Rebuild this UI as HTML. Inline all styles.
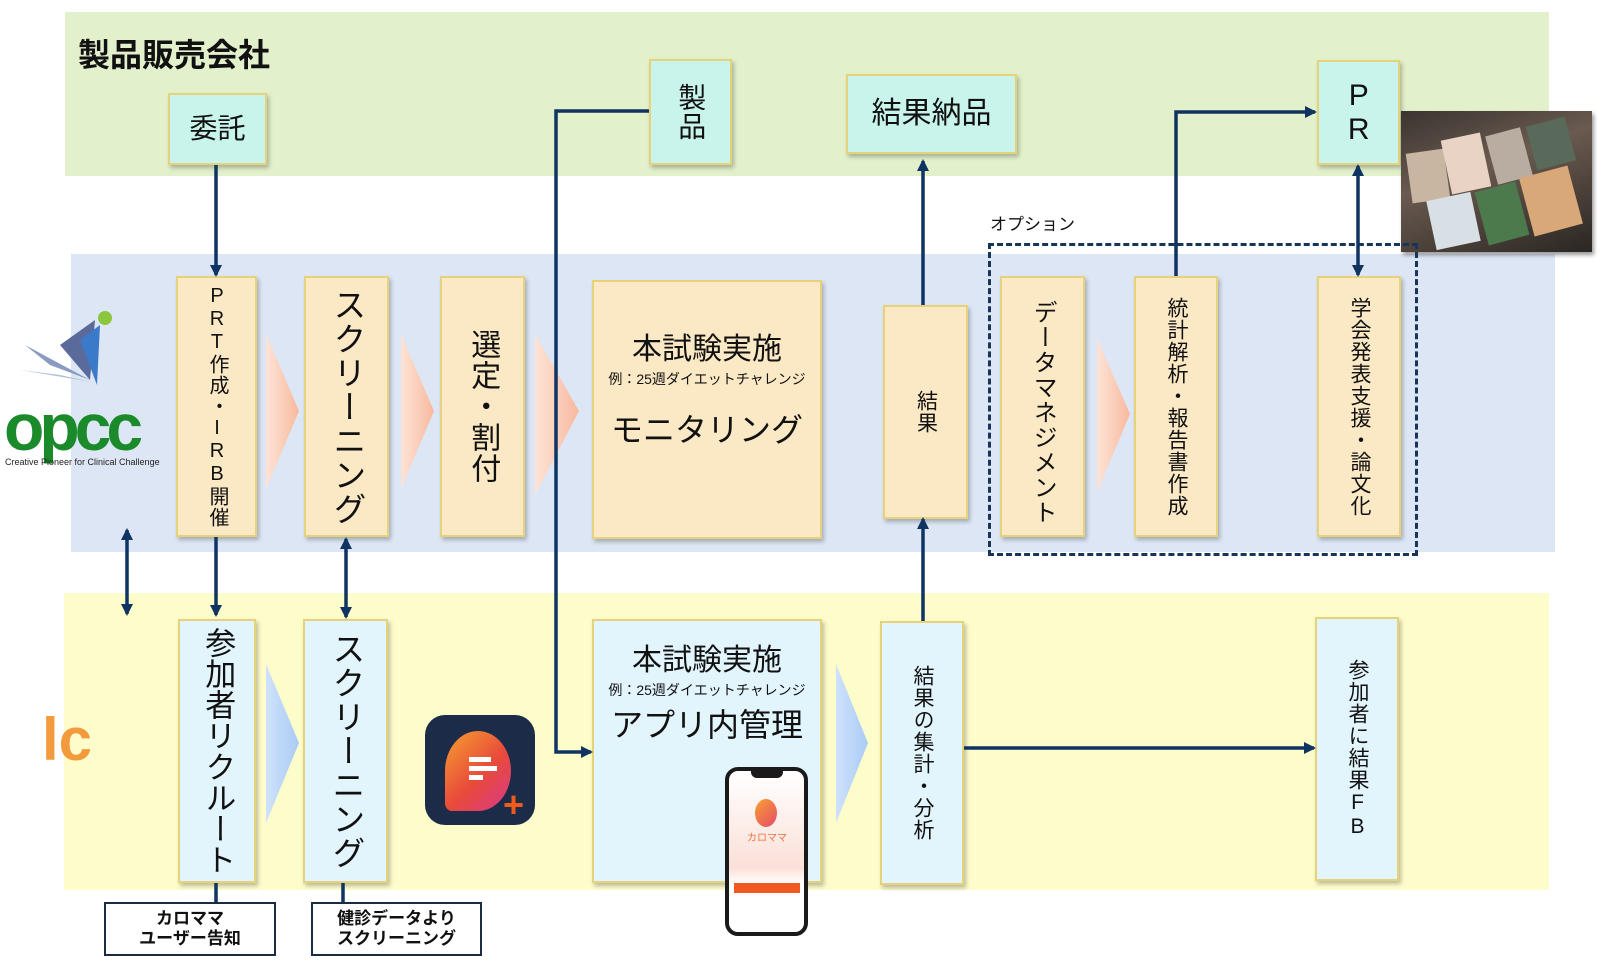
<!DOCTYPE html>
<html><head><meta charset="utf-8"><style>
*{margin:0;padding:0;box-sizing:border-box}
body{width:1605px;height:962px;position:relative;background:#fff;overflow:hidden;font-family:"Liberation Sans","Noto Sans CJK JP",sans-serif;color:#111}
.a{position:absolute}
.band{position:absolute}
.bx{position:absolute;border:2px solid #e6d27a;box-shadow:2px 3px 4px rgba(0,0,0,.25);display:flex;align-items:center;justify-content:center;text-align:center;line-height:1.05}
.t{background:#c8f4ec}
.p{background:#fbe8c4}
.l{background:#e2f5fd}
.v{writing-mode:vertical-rl;text-orientation:upright;letter-spacing:1px;white-space:nowrap}
.lb{position:absolute;border:2px solid #1b2b44;background:#fff;font-weight:bold;font-size:17px;line-height:1.2;text-align:center;display:flex;align-items:center;justify-content:center}
</style></head><body>
<div class="band" style="left:65px;top:12px;width:1484px;height:164px;background:#e2f0cb"></div>
<div class="band" style="left:71px;top:254px;width:1484px;height:298px;background:#dde6f4"></div>
<div class="band" style="left:64px;top:593px;width:1485px;height:297px;background:#fdfccb"></div>
<div class="a" style="left:78px;top:30px;font-size:32px;font-weight:bold">製品販売会社</div>

<div class="bx t" style="left:168px;top:93px;width:99px;height:72px;font-size:28px">委託</div>
<div class="bx t v" style="left:649px;top:59px;width:83px;height:106px;font-size:28px">製品</div>
<div class="bx t" style="left:846px;top:74px;width:171px;height:80px;font-size:30px">結果納品</div>
<div class="bx t v" style="left:1317px;top:60px;width:83px;height:105px;font-size:30px">PR</div>

<div class="a" style="left:1401px;top:111px;width:191px;height:141px;background:linear-gradient(160deg,#3a3430,#6a5a50 40%,#2a2622);box-shadow:2px 3px 4px rgba(0,0,0,.4);overflow:hidden">
<div class="a" style="left:8px;top:40px;width:38px;height:50px;background:#c9b6a2;transform:rotate(-8deg)"></div>
<div class="a" style="left:45px;top:25px;width:40px;height:55px;background:#e9d3c5;transform:rotate(-12deg)"></div>
<div class="a" style="left:90px;top:20px;width:36px;height:50px;background:#b9aca0;transform:rotate(-15deg)"></div>
<div class="a" style="left:130px;top:10px;width:40px;height:45px;background:#5a6a5a;transform:rotate(-15deg)"></div>
<div class="a" style="left:30px;top:85px;width:45px;height:50px;background:#d8e0e6;transform:rotate(-12deg)"></div>
<div class="a" style="left:80px;top:75px;width:42px;height:55px;background:#4c7a4c;transform:rotate(-15deg)"></div>
<div class="a" style="left:125px;top:60px;width:50px;height:60px;background:#d9a878;transform:rotate(-15deg)"></div>
</div>

<div class="a" style="left:990px;top:210px;font-size:17px">オプション</div>
<div class="a" style="left:988px;top:243px;width:430px;height:313px;border:3px dashed #17355a"></div>

<svg class="a" style="left:0;top:0" width="1605" height="962">
<defs>
<linearGradient id="pg" x1="0" x2="1"><stop offset="0" stop-color="#fde4d6"/><stop offset="1" stop-color="#f8b99e"/></linearGradient>
<linearGradient id="bg" x1="0" x2="1"><stop offset="0" stop-color="#cfe2fb"/><stop offset="1" stop-color="#a9cbf5"/></linearGradient>
</defs>
<polygon points="266,334 299,411 266,489" fill="url(#pg)"/>
<polygon points="401,334 434,411 401,489" fill="url(#pg)"/>
<polygon points="535,334 579,411 535,495" fill="url(#pg)"/>
<polygon points="1097,338 1130,414 1097,492" fill="url(#pg)"/>
<polygon points="266,664 299,743 266,823" fill="url(#bg)"/>
<polygon points="836,664 868,743 836,823" fill="url(#bg)"/>
</svg>

<div class="bx p v" style="left:176px;top:276px;width:81px;height:261px;font-size:20px">PRT作成・IRB開催</div>
<div class="bx p v" style="left:304px;top:276px;width:85px;height:261px;font-size:33px">スクリーニング</div>
<div class="bx p v" style="left:440px;top:276px;width:85px;height:261px;font-size:30px">選定・割付</div>
<div class="bx p" style="left:592px;top:280px;width:230px;height:259px;flex-direction:column;justify-content:flex-start">
<div style="font-size:30px;margin-top:52px">本試験実施</div>
<div style="font-size:14px;margin-top:6px">例：25週ダイエットチャレンジ</div>
<div style="font-size:32px;margin-top:28px">モニタリング</div></div>
<div class="bx p v" style="left:883px;top:305px;width:85px;height:214px;font-size:21px">結果</div>
<div class="bx p v" style="left:1000px;top:276px;width:85px;height:261px;font-size:24px;justify-content:flex-start;padding-top:22px">データマネジメント</div>
<div class="bx p v" style="left:1134px;top:276px;width:84px;height:261px;font-size:21px">統計解析・報告書作成</div>
<div class="bx p v" style="left:1317px;top:276px;width:84px;height:261px;font-size:21px">学会発表支援・論文化</div>

<div class="bx l v" style="left:178px;top:619px;width:78px;height:264px;font-size:31px;letter-spacing:0">参加者リクルート</div>
<div class="bx l v" style="left:303px;top:619px;width:85px;height:264px;font-size:33px">スクリーニング</div>
<div class="bx l" style="left:592px;top:619px;width:230px;height:264px;flex-direction:column;justify-content:flex-start">
<div style="font-size:30px;margin-top:24px">本試験実施</div>
<div style="font-size:14px;margin-top:6px">例：25週ダイエットチャレンジ</div>
<div style="font-size:32px;margin-top:12px">アプリ内管理</div></div>
<div class="bx l v" style="left:880px;top:621px;width:84px;height:264px;font-size:21px">結果の集計・分析</div>
<div class="bx l v" style="left:1315px;top:617px;width:84px;height:264px;font-size:21px">参加者に結果FB</div>

<div class="a" style="left:425px;top:715px;width:110px;height:110px;border-radius:20px;background:#1c2c48">
<div class="a" style="left:20px;top:16px;width:66px;height:80px;border-radius:50% 50% 50% 10%;background:linear-gradient(135deg,#f7a030,#e84a3a 55%,#d93a8a)"></div>
<div class="a" style="left:44px;top:42px;width:22px;height:5px;background:#fff"></div>
<div class="a" style="left:44px;top:51px;width:28px;height:5px;background:#fff"></div>
<div class="a" style="left:44px;top:60px;width:14px;height:5px;background:#fff"></div>
<div class="a" style="left:78px;top:72px;font-size:36px;font-weight:bold;color:#f05a1a;line-height:1">+</div>
</div>
<div class="a" style="left:725px;top:767px;width:83px;height:169px;border:4px solid #1a1a1a;border-radius:13px;background:linear-gradient(#fff,#fbe0d8 60%,#fff 70%)">
<div class="a" style="left:22px;top:0;width:32px;height:7px;background:#1a1a1a;border-radius:0 0 6px 6px"></div>
<div class="a" style="left:26px;top:28px;width:22px;height:28px;border-radius:50%;background:linear-gradient(135deg,#f7a030,#e84a6a)"></div>
<div class="a" style="left:18px;top:58px;font-size:10px;color:#f07040">カロママ</div>
<div class="a" style="left:5px;top:112px;width:66px;height:10px;background:#ef5a20"></div>
</div>

<svg class="a" style="left:0;top:300px" width="170" height="180">
<polygon points="95,20 90,80 60,45" fill="#5a6a9a"/>
<polygon points="100,25 97,85 80,40" fill="#3a7ac8"/>
<polygon points="90,80 25,45 50,65" fill="#8a9ac0"/>
<polygon points="92,82 20,70 60,75" fill="#b0c0d8"/>
<circle cx="105" cy="18" r="7" fill="#8cc63f"/>
<text x="4" y="150" font-size="66" font-weight="bold" fill="#1a8a2a" font-family="Liberation Sans,sans-serif" letter-spacing="-5">opcc</text>
<text x="5" y="165" font-size="9" fill="#222" font-family="Liberation Sans,sans-serif">Creative Pioneer for Clinical Challenge</text>
</svg>
<div class="a" style="left:42px;top:710px;font-size:60px;font-weight:bold;color:#f39a3c;line-height:1">lc</div>

<div class="lb" style="left:104px;top:902px;width:172px;height:54px">カロママ<br>ユーザー告知</div>
<div class="lb" style="left:311px;top:902px;width:171px;height:54px">健診データより<br>スクリーニング</div>

<svg class="a" style="left:0;top:0" width="1605" height="962">
<defs>
<marker id="ar" markerWidth="12" markerHeight="12" refX="10" refY="6" orient="auto" markerUnits="userSpaceOnUse"><path d="M0,0 L12,6 L0,12 z" fill="#0f3461"/></marker>
<marker id="as" markerWidth="12" markerHeight="12" refX="2" refY="6" orient="auto" markerUnits="userSpaceOnUse"><path d="M12,0 L0,6 L12,12 z" fill="#0f3461"/></marker>
</defs>
<g stroke="#0f3461" stroke-width="3.5" fill="none">
<line x1="216" y1="165" x2="216" y2="275" marker-end="url(#ar)"/>
<line x1="216" y1="537" x2="216" y2="615" marker-end="url(#ar)"/>
<line x1="346" y1="539" x2="346" y2="617" marker-start="url(#as)" marker-end="url(#ar)"/>
<line x1="127" y1="530" x2="127" y2="614" marker-start="url(#as)" marker-end="url(#ar)"/>
<polyline points="649,111 556,111 556,752 591,752" marker-end="url(#ar)"/>
<line x1="923" y1="305" x2="923" y2="161" marker-end="url(#ar)"/>
<line x1="923" y1="621" x2="923" y2="519" marker-end="url(#ar)"/>
<polyline points="1176,276 1176,112 1315,112" marker-end="url(#ar)"/>
<line x1="1358" y1="166" x2="1358" y2="275" marker-start="url(#as)" marker-end="url(#ar)"/>
<line x1="964" y1="748" x2="1314" y2="748" marker-end="url(#ar)"/>
<line x1="216" y1="883" x2="216" y2="902"/>
<line x1="343" y1="883" x2="343" y2="902"/>
</g>
</svg>
</body></html>
